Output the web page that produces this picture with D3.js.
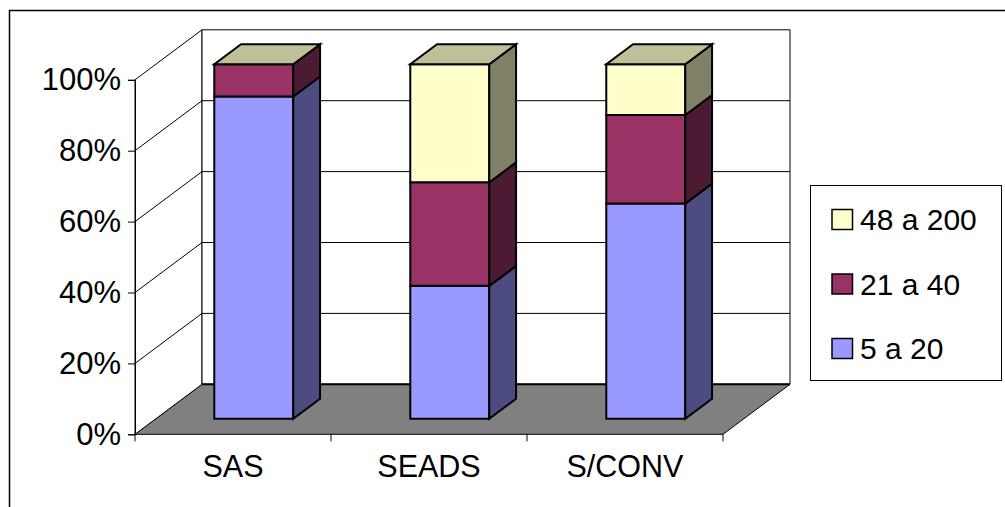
<!DOCTYPE html>
<html>
<head>
<meta charset="utf-8">
<script src="https://cdn.jsdelivr.net/npm/d3@7"></script>
<style>
  html, body { margin: 0; padding: 0; background: #fff; }
  svg { display: block; }
  text { font-family: "Liberation Sans", Arial, sans-serif; fill: #000; }
</style>
</head>
<body>
<svg id="chart" width="1005" height="507"></svg>
<script>
// Categories and stacked series (percent of each column)
const categories = ["SAS", "SEADS", "S/CONV"];
const seriesNames = ["5 a 20", "21 a 40", "48 a 200"];
const series5a20 = [90.9, 37.5, 60.7];
const series21a40 = [9.1, 29.2, 25.0];
const series48a200 = [0.0, 33.3, 14.3];
const yTicks = [0, 20, 40, 60, 80, 100];

// Face colours per series: front, side, top
const frontColors = ["#9999ff", "#993366", "#ffffcc"];
const sideColors = ["#4c4c80", "#4d1a33", "#808066"];
const topColors = ["#7373bf", "#732650", "#bfbf99"];

const svg = d3.select("#chart");

// Oblique projection: full depth shift of the plot box
const DX = 67, DY = -50;
const barDepthFront = 0.31, barDepthBack = 0.71;

const y = d3.scaleLinear().domain([0, 100]).range([434.3, 79.8]);
const xCat = d3.scaleBand().domain(categories).range([135, 723]).padding(0);
const xBar = d3.scaleBand().domain(categories).range([135, 723])
  .paddingInner(0.597).paddingOuter(0.2985);

const stack = d3.stack().keys([0, 1, 2]);
const rows = categories.map((c, i) => ({ cat: c, 0: series5a20[i], 1: series21a40[i], 2: series48a200[i] }));
const stacked = stack(rows);

// Outer chart border
svg.append("rect")
  .attr("x", 9.5).attr("y", 10.5).attr("width", 1010).attr("height", 520)
  .attr("fill", "none").attr("stroke", "#000").attr("stroke-width", 1.5);

const x0 = 135, x1 = 723, y0 = y(0), yTop = y(100);
const pts = a => a.map(p => p.join(",")).join(" ");

// Floor
svg.append("polygon")
  .attr("points", pts([[x0, y0], [x1, y0], [x1 + DX, y0 + DY], [x0 + DX, y0 + DY]]))
  .attr("fill", "#808080").attr("stroke", "#000").attr("stroke-width", 1);

// Side wall and back wall
svg.append("polygon")
  .attr("points", pts([[x0, y0], [x0, yTop], [x0 + DX, yTop + DY], [x0 + DX, y0 + DY]]))
  .attr("fill", "#fff").attr("stroke", "#000").attr("stroke-width", 1);
svg.append("polygon")
  .attr("points", pts([[x0 + DX, yTop + DY], [x1 + DX, yTop + DY], [x1 + DX, y0 + DY], [x0 + DX, y0 + DY]]))
  .attr("fill", "#fff").attr("stroke", "#000").attr("stroke-width", 1);
svg.append("line")
  .attr("x1", x0 + DX).attr("x2", x1 + DX).attr("y1", y0 + DY).attr("y2", y0 + DY)
  .attr("stroke", "#000").attr("stroke-width", 2);

// Gridlines on side and back walls
const grid = svg.append("g").attr("stroke", "#000").attr("stroke-width", 1).attr("fill", "none");
yTicks.filter(v => v > 0 && v < 100).forEach(v => {
  grid.append("polyline")
    .attr("points", pts([[x0, y(v)], [x0 + DX, y(v) + DY], [x1 + DX, y(v) + DY]]));
});

// Value axis
const yAxis = svg.append("g")
  .attr("transform", `translate(${x0},0)`)
  .call(d3.axisLeft(y).tickValues(yTicks).tickFormat(d => d + "%").tickSize(7).tickPadding(7));
yAxis.select(".domain").attr("stroke", "#000").attr("stroke-width", 1);
yAxis.selectAll(".tick line").attr("stroke", "#000");
yAxis.selectAll(".tick text")
  .attr("font-family", "Liberation Sans, Arial, sans-serif")
  .attr("font-size", 31).attr("fill", "#000");

// Category axis ticks (between categories) and labels
const catTicks = categories.map(c => xCat(c)).concat([x1]);
svg.append("g").selectAll("line").data(catTicks).join("line")
  .attr("x1", d => d).attr("x2", d => d).attr("y1", y0).attr("y2", y0 + 7)
  .attr("stroke", "#000").attr("stroke-width", 1);
svg.append("g").selectAll("text").data(categories).join("text")
  .attr("x", d => xCat(d) + xCat.bandwidth() / 2)
  .attr("y", 477)
  .attr("text-anchor", "middle")
  .attr("font-size", 30.5)
  .text(d => d);

// 3D stacked columns
const fdx = DX * barDepthFront, fdy = DY * barDepthFront;
const bdx = DX * (barDepthBack - barDepthFront), bdy = DY * (barDepthBack - barDepthFront);
const bars = svg.append("g").attr("stroke", "#000").attr("stroke-width", 2).attr("stroke-linejoin", "miter");

categories.forEach((c, ci) => {
  const left = xBar(c) + fdx;
  const right = left + xBar.bandwidth();
  stacked.forEach((layer, si) => {
    const [lo, hi] = layer[ci];
    if (hi - lo <= 0) return;
    const yb = y(lo) + fdy, yt = y(hi) + fdy;
    bars.append("polygon")
      .attr("points", pts([[left, yb], [right, yb], [right, yt], [left, yt]]))
      .attr("fill", frontColors[si]);
    bars.append("polygon")
      .attr("points", pts([[right, yb], [right + bdx, yb + bdy], [right + bdx, yt + bdy], [right, yt]]))
      .attr("fill", sideColors[si]);
  });
  // Top face takes the colour of the uppermost series
  const last = stacked.length - 1;
  const yt = y(stacked[last][ci][1]) + fdy;
  bars.append("polygon")
    .attr("points", pts([[left, yt], [right, yt], [right + bdx, yt + bdy], [left + bdx, yt + bdy]]))
    .attr("fill", topColors[last]);
});

// Legend
const legend = svg.append("g");
legend.append("rect")
  .attr("x", 810.5).attr("y", 185.5).attr("width", 191).attr("height", 195)
  .attr("fill", "#fff").attr("stroke", "#000").attr("stroke-width", 1);
const legendOrder = [2, 1, 0];
const rowY = [219.5, 284, 348.5];
legendOrder.forEach((si, k) => {
  legend.append("rect")
    .attr("x", 832).attr("y", rowY[k] - 10).attr("width", 20.5).attr("height", 20)
    .attr("fill", frontColors[si]).attr("stroke", "#000").attr("stroke-width", 1.5);
  legend.append("text")
    .attr("x", 860).attr("y", rowY[k] + 10.5)
    .attr("font-size", 30)
    .text(seriesNames[si]);
});
</script>
</body>
</html>
